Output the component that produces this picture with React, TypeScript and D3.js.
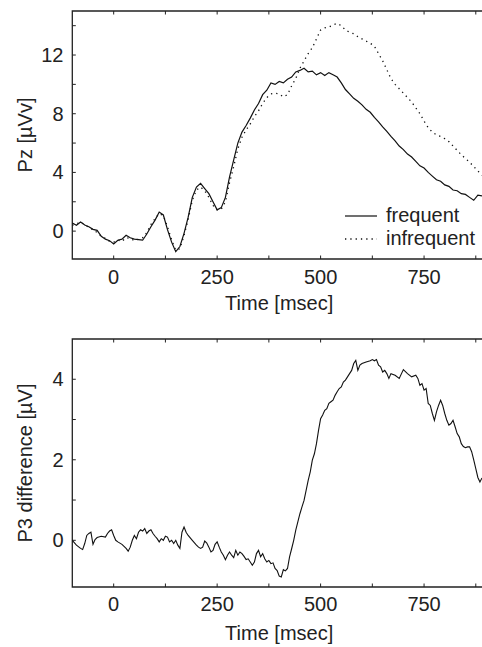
import React from "react";
import * as d3 from "d3";

// ---------- DATA ----------
const topTimes: number[] = d3.range(-100, 900, 10);
const frequentValues: number[] = [
  0.55, 0.4, 0.62, 0.42, 0.3, 0.12, 0.05, -0.35, -0.55, -0.65,
  -0.88, -0.62, -0.55, -0.28, -0.45, -0.55, -0.58, -0.62, -0.2, 0.3,
  0.75, 1.3, 1.1, 0.1, -0.75, -1.4, -1.05, -0.15, 0.95, 2.3,
  3.0, 3.25, 2.9, 2.55, 2.0, 1.45, 1.6, 2.3, 3.7, 4.85,
  6.0, 6.75, 7.2, 7.7, 8.25, 8.7, 9.3, 9.6, 10.1, 10.0,
  10.2, 10.1, 10.35, 10.5, 10.85, 10.95, 11.1, 10.85, 10.9, 10.65,
  10.8, 10.6, 10.8, 10.65, 10.5, 10.1, 9.65, 9.35, 9.05, 8.85,
  8.6, 8.3, 8.1, 7.75, 7.45, 7.1, 6.8, 6.45, 6.15, 5.8,
  5.55, 5.25, 5.05, 4.75, 4.45, 4.3, 4.0, 3.75, 3.5, 3.4,
  3.15, 3.05, 2.8, 2.75, 2.55, 2.5, 2.3, 2.1, 2.45, 2.4,
];
const infrequentValues: number[] = [
  0.4, 0.5, 0.6, 0.45, 0.25, 0.1, -0.1, -0.35, -0.5, -0.7,
  -0.75, -0.6, -0.7, -0.45, -0.5, -0.65, -0.55, -0.45, -0.1, 0.45,
  0.85, 1.2, 1.05, 0.3, -0.6, -1.3, -1.2, -0.3, 0.8, 2.1,
  2.8, 3.0, 2.75, 2.3, 1.75, 1.45, 1.5, 2.0, 3.3, 4.4,
  5.6, 6.4, 6.9, 7.3, 7.8, 8.2, 8.7, 9.1, 9.35, 9.4,
  9.35, 9.15, 9.3, 9.9, 10.4, 11.1, 11.6, 12.1, 12.5, 13.1,
  13.7, 13.85, 13.9, 14.05, 14.15, 14.0, 13.7, 13.55, 13.45, 13.25,
  13.1, 12.95, 12.8, 12.6, 12.1, 11.6, 11.0, 10.4, 10.0, 9.7,
  9.4, 9.1, 8.8, 8.4, 8.0, 7.5, 7.05, 6.75, 6.55, 6.45,
  6.3, 6.1, 5.8, 5.5, 5.2, 4.95, 4.7, 4.4, 4.1, 3.8,
];

const diffTimes: number[] = [
  -100, -90, -80, -75, -70, -65, -60, -55, -50, -45, -40, -30, -20, -15, -10, -5,
  0, 5, 10, 20, 30, 35, 40, 45, 50, 55, 60, 65, 70, 75, 80, 85, 90, 95,
  100, 105, 110, 115, 120, 125, 130, 135, 140, 145, 150, 155, 160, 165, 170, 175, 180, 190,
  200, 205, 210, 215, 220, 225, 230, 235, 240, 245, 250, 255, 260, 265, 270, 275, 280, 285, 290, 295,
  300, 305, 310, 315, 320, 325, 330, 335, 340, 345, 350, 355, 360, 365, 370, 375, 380, 385, 390, 395,
  400, 405, 410, 415, 420, 425, 430, 435, 440, 445, 450, 455, 460, 465, 470, 475, 480, 485, 490, 495,
  500, 505, 510, 515, 520, 525, 530, 535, 540, 545, 550, 555, 560, 565, 570, 575, 580, 585, 590, 595,
  600, 610, 620, 625, 630, 635, 640, 645, 650, 655, 660, 665, 670, 680, 690,
  700, 710, 720, 730, 735, 740, 745, 750, 755, 760, 765, 770, 775, 780, 785, 790, 795,
  800, 805, 810, 815, 820, 825, 830, 835, 840, 845, 850, 855, 860, 865, 870, 875, 880, 885, 890,
];
const diffValues: number[] = [
  0.0, -0.12, -0.2, -0.23, -0.08, 0.12, 0.17, 0.2, -0.1, 0.02, 0.07, 0.1, 0.08, 0.17, 0.23, 0.26,
  0.12, 0.0, -0.04, -0.1, -0.2, -0.27, -0.17, 0.0, 0.12, 0.04, 0.2, 0.26, 0.23, 0.29, 0.17, 0.23, 0.26, 0.17,
  0.1, 0.04, -0.04, 0.04, 0.0, 0.1, 0.08, -0.04, 0.0, -0.08, 0.0, -0.12, -0.2, 0.2, 0.33, 0.2, 0.12, 0.0,
  -0.12, -0.17, -0.2, -0.17, -0.02, -0.07, -0.17, -0.29, -0.25, -0.1, -0.04, -0.17, -0.29, -0.37, -0.48, -0.37, -0.29, -0.37, -0.43, -0.25,
  -0.37, -0.29, -0.33, -0.4, -0.48, -0.46, -0.54, -0.62, -0.54, -0.33, -0.25, -0.41, -0.33, -0.46, -0.54, -0.5, -0.58, -0.56, -0.7, -0.75,
  -0.89, -0.91, -0.73, -0.76, -0.7, -0.41, -0.21, 0.0, 0.25, 0.46, 0.66, 0.83, 0.99, 1.24, 1.49, 1.7, 1.99, 2.15, 2.4, 2.73,
  3.02, 3.11, 3.23, 3.27, 3.4, 3.44, 3.48, 3.6, 3.69, 3.77, 3.81, 3.93, 3.98, 4.06, 4.14, 4.22, 4.39, 4.47, 4.22, 4.35,
  4.39, 4.43, 4.46, 4.49, 4.46, 4.49, 4.35, 4.31, 4.18, 4.22, 4.14, 4.02, 4.14, 4.1, 4.02,
  4.24, 4.14, 4.06, 4.1, 4.02, 3.85, 3.89, 3.73, 3.77, 3.4, 3.35, 3.15, 2.98, 3.19, 3.35, 3.48, 3.35,
  3.15, 2.98, 2.86, 2.9, 2.98, 2.82, 2.65, 2.57, 2.4, 2.33, 2.3, 2.32, 2.32, 2.2, 2.0, 1.78, 1.56, 1.45, 1.55,
];

const xMajorTicks = [0, 250, 500, 750];
const xMinorTicks = [125, 375, 625, 875];
const topYMajor = [0, 4, 8, 12];
const topYMinor = [2, 6, 10, 14];
const botYMajor = [0, 2, 4];
const botYMinor = [1, 3];
const legendLabels = ["frequent", "infrequent"];

// ---------- LAYOUT ----------
const W = 482;
const H = 647;
const LEFT = 72.3;
const RIGHT = 482;
const FONT = "'Liberation Sans', Arial, Helvetica, sans-serif";
const TEXT = "#222";
const FS = 20;
const DOTS = "1.3 4";

const x = d3.scaleLinear().domain([-100, 890]).range([LEFT, RIGHT]);
const yTop = d3.scaleLinear().domain([-1.9, 15]).range([259, 11]);
const yBot = d3.scaleLinear().domain([-1.16, 5]).range([587, 339]);

function Panel({
  y,
  yMajor,
  yMinor,
  tickLabelBaseline,
  xLabelBaseline,
  yLabel,
}: {
  y: d3.ScaleLinear<number, number>;
  yMajor: number[];
  yMinor: number[];
  tickLabelBaseline: number;
  xLabelBaseline: number;
  yLabel: string;
}) {
  const [y0, y1] = y.range();
  const bottom = y0;
  const top = y1;
  const tl = 3.5;
  const yMid = (top + bottom) / 2;
  return (
    <g>
      <path
        d={`M${RIGHT},${top}H${LEFT}V${bottom}H${RIGHT}`}
        fill="none"
        stroke="#222"
        strokeWidth={1.3}
      />
      {[...xMajorTicks, ...xMinorTicks].map((t) => (
        <g key={"xt" + t}>
          <line x1={x(t)} x2={x(t)} y1={bottom} y2={bottom - tl} stroke="#222" strokeWidth={1} />
          <line x1={x(t)} x2={x(t)} y1={top} y2={top + tl} stroke="#222" strokeWidth={1} />
        </g>
      ))}
      {[...yMajor, ...yMinor].map((v) => (
        <line key={"yt" + v} x1={LEFT} x2={LEFT + tl} y1={y(v)} y2={y(v)} stroke="#222" strokeWidth={1} />
      ))}
      {xMajorTicks.map((t) => (
        <text
          key={"xl" + t}
          x={x(t)}
          y={tickLabelBaseline}
          textAnchor="middle"
          fontSize={FS}
          fontFamily={FONT}
          fill={TEXT}
        >
          {t}
        </text>
      ))}
      {yMajor.map((v) => (
        <text
          key={"yl" + v}
          x={63.5}
          y={y(v) + 7}
          textAnchor="end"
          fontSize={FS}
          fontFamily={FONT}
          fill={TEXT}
        >
          {v}
        </text>
      ))}
      <text
        x={(LEFT + RIGHT) / 2 + 2}
        y={xLabelBaseline}
        textAnchor="middle"
        fontSize={FS}
        fontFamily={FONT}
        fill={TEXT}
      >
        Time [msec]
      </text>
      <text
        transform={`translate(32,${yMid}) rotate(-90)`}
        textAnchor="middle"
        fontSize={FS}
        fontFamily={FONT}
        fill={TEXT}
      >
        {yLabel}
      </text>
    </g>
  );
}

export default function App() {
  const lineTop = d3
    .line<number>()
    .x((_, i) => x(topTimes[i]))
    .y((d) => yTop(d));
  const lineBot = d3
    .line<number>()
    .x((_, i) => x(diffTimes[i]))
    .y((d) => yBot(d));

  return (
    <svg
      width={W}
      height={H}
      viewBox={`0 0 ${W} ${H}`}
      style={{ position: "absolute", left: 0, top: 0, background: "#fff" }}
    >
      <rect x={0} y={0} width={W} height={H} fill="#fff" />
      <Panel
        y={yTop}
        yMajor={topYMajor}
        yMinor={topYMinor}
        tickLabelBaseline={284}
        xLabelBaseline={310}
        yLabel="Pz [µVv]"
      />
      <path d={lineTop(infrequentValues) || ""} fill="none" stroke="#111" strokeWidth={1.3} strokeDasharray={DOTS} />
      <path d={lineTop(frequentValues) || ""} fill="none" stroke="#111" strokeWidth={1.2} />

      {/* legend */}
      <line x1={345} x2={377} y1={216} y2={216} stroke="#111" strokeWidth={1.2} />
      <line x1={345} x2={377} y1={239} y2={239} stroke="#111" strokeWidth={1.3} strokeDasharray={DOTS} />
      {legendLabels.map((l, i) => (
        <text key={l} x={386} y={222 + i * 23} fontSize={FS} fontFamily={FONT} fill={TEXT}>
          {l}
        </text>
      ))}

      <Panel
        y={yBot}
        yMajor={botYMajor}
        yMinor={botYMinor}
        tickLabelBaseline={611}
        xLabelBaseline={640}
        yLabel="P3 difference [µV]"
      />
      <path d={lineBot(diffValues) || ""} fill="none" stroke="#111" strokeWidth={1.1} />
    </svg>
  );
}
